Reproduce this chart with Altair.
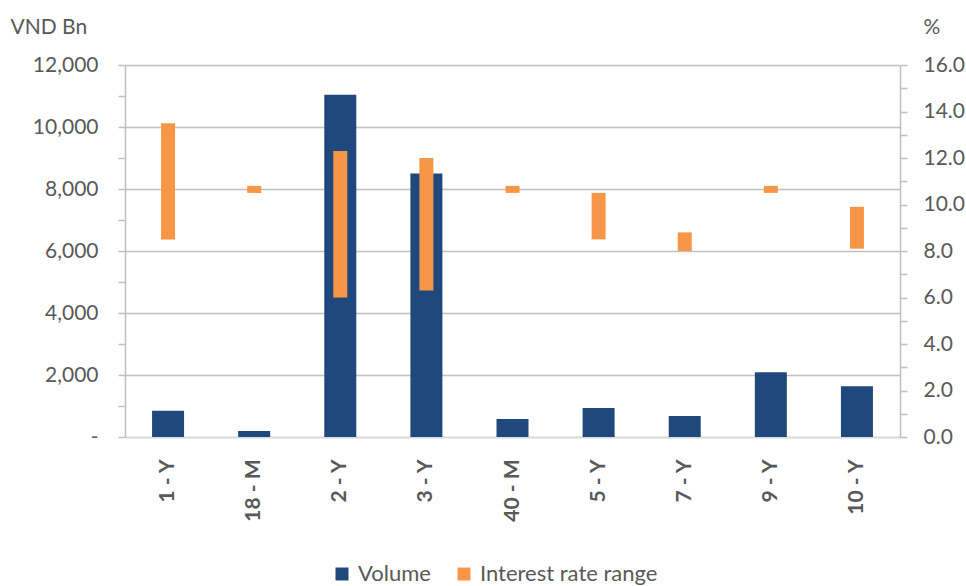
import altair as alt
import pandas as pd

tenors = ["1 - Y", "18 - M", "2 - Y", "3 - Y", "40 - M", "5 - Y", "7 - Y", "9 - Y", "10 - Y"]
volume = [850, 190, 11040, 8500, 580, 935, 680, 2090, 1640]
rate_low = [8.5, 10.5, 6.0, 6.3, 10.5, 8.5, 8.0, 10.5, 8.1]
rate_high = [13.5, 10.8, 12.3, 12.0, 10.8, 10.5, 8.8, 10.8, 9.9]

series = ["Volume", "Interest rate range"]
colors = ["#1F497D", "#F79646"]

df = pd.DataFrame({"tenor": tenors, "volume": volume, "low": rate_low, "high": rate_high})

FONT = "Lato"
GRAY = "#595959"
LINE = "#BFBFBF"

x_enc = alt.X(
    "tenor:N",
    sort=tenors,
    scale=alt.Scale(paddingInner=0, paddingOuter=0),
    axis=alt.Axis(
        title=None, labelAngle=270, labelFontWeight="bold", labelFontSize=21,
        labelColor=GRAY, labelFont=FONT, labelPadding=22, ticks=False, tickSize=0,
        domainColor="#D9D9D9", domainWidth=1.5, grid=False,
    ),
)

color_scale = alt.Scale(domain=series, range=colors)
legend = alt.Legend(
    title=None, orient="none", legendX=206, legendY=498, direction="horizontal",
    symbolType="square", symbolSize=169, symbolStrokeWidth=0, labelFont=FONT,
    labelFontSize=22, labelColor=GRAY, columnPadding=22, labelOffset=5, labelLimit=0,
)

base = alt.Chart(df)

vol = base.mark_bar(size=32).transform_calculate(series="'Volume'").encode(
    x=x_enc,
    y=alt.Y(
        "volume:Q",
        scale=alt.Scale(domain=[0, 12000], nice=False),
        axis=alt.Axis(
            orient="left",
            values=list(range(0, 12001, 1000)),
            labelExpr="datum.value == 0 ? '-\u2007' : (datum.value % 2000 == 0 ? format(datum.value, ',') : '')",
            labelFont=FONT, labelFontSize=21, labelColor=GRAY, labelPadding=20,
            tickSize=7, tickColor=LINE, tickWidth=1.5, domainColor=LINE, domainWidth=1.5,
            grid=True, gridColor=LINE, gridWidth=1.5,
            gridOpacity={"condition": {"test": "datum.value % 2000 === 0", "value": 1}, "value": 0},
            title="VND Bn", titleAngle=0, titleAlign="left", titleBaseline="alphabetic",
            titleX=-115, titleY=-32, titleFont=FONT, titleFontSize=21,
            titleFontWeight="normal", titleColor=GRAY, labelOverlap=False,
        ),
    ),
    color=alt.Color("series:N", scale=color_scale, legend=legend),
)

rate = base.mark_bar(size=14).transform_calculate(series="'Interest rate range'").encode(
    x=x_enc,
    y=alt.Y(
        "low:Q",
        scale=alt.Scale(domain=[0, 16], nice=False),
        axis=alt.Axis(
            orient="right",
            values=list(range(0, 17)),
            labelExpr="datum.value % 2 == 0 ? format(datum.value, '.1f') : ''",
            labelFont=FONT, labelFontSize=21, labelColor=GRAY, labelPadding=16,
            tickSize=7, tickColor=LINE, tickWidth=1.5, domainColor=LINE, domainWidth=1.5,
            grid=False,
            title="%", titleAngle=0, titleAlign="left", titleBaseline="alphabetic",
            titleX=23, titleY=-32, titleFont=FONT, titleFontSize=21,
            titleFontWeight="normal", titleColor=GRAY, labelOverlap=False,
        ),
    ),
    y2="high:Q",
    color=alt.Color("series:N", scale=color_scale, legend=legend),
)

chart = (
    alt.layer(vol, rate)
    .resolve_scale(y="independent")
    .properties(
        width=775, height=372,
        padding={"left": 125, "top": 65, "right": 66, "bottom": 149},
        autosize=alt.AutoSizeParams(type="none"),
        background="white",
    )
    .configure_view(stroke=None)
)

chart.save("out.html", embed_options={"renderer": "svg", "actions": False})
